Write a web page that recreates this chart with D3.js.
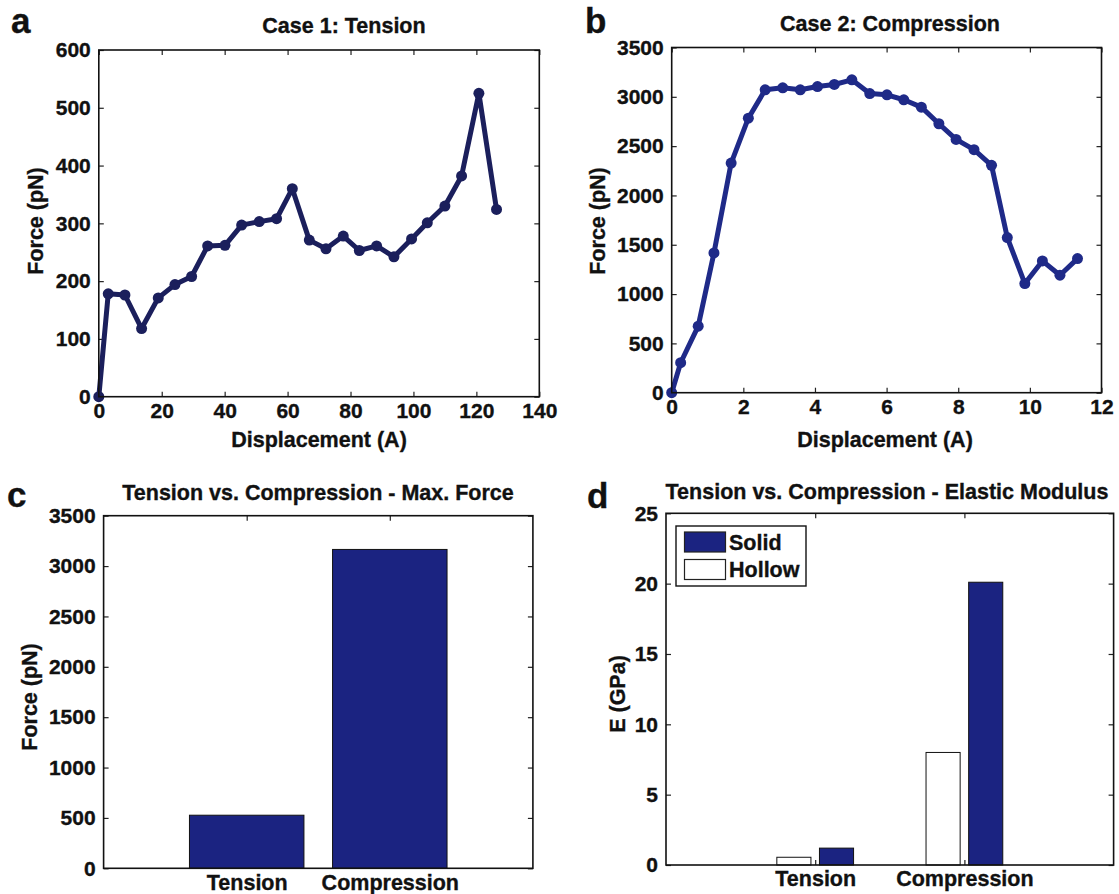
<!DOCTYPE html>
<html>
<head>
<meta charset="utf-8">
<script src="https://cdn.jsdelivr.net/npm/d3@7"></script>
<style>
  html, body { margin: 0; padding: 0; background: #fff; }
  svg { display: block; }
  text { font-family: "Liberation Sans", Arial, Helvetica, sans-serif; font-weight: bold; fill: #111; stroke: #111; stroke-width: 0.35px; }
</style>
</head>
<body>
<svg id="chart" width="1119" height="894"></svg>
<script>
// ---------------- DATA ----------------
const tensionDisp  = [0, 3, 8.3, 13.6, 18.9, 24.2, 29.5, 34.6, 40.1, 45.4, 51.0, 56.5, 61.5, 66.9, 72.2, 77.7, 82.8, 88.3, 93.8, 99.4, 104.4, 110.0, 115.3, 120.8, 126.4];
const tensionForce = [0, 178, 176, 118, 171, 194, 208, 261, 262, 297, 303, 308, 360, 271, 256, 278, 253, 261, 242, 273, 301, 330, 382, 525, 324];

const compDisp  = [0, 0.25, 0.74, 1.18, 1.66, 2.14, 2.61, 3.10, 3.59, 4.07, 4.54, 5.03, 5.53, 6.01, 6.48, 6.97, 7.46, 7.94, 8.44, 8.93, 9.37, 9.86, 10.35, 10.84, 11.33];
const compForce = [0, 304, 675, 1417, 2328, 2783, 3071, 3091, 3071, 3104, 3125, 3172, 3033, 3020, 2970, 2895, 2727, 2568, 2464, 2305, 1573, 1107, 1336, 1191, 1360];

const maxCategories = ["Tension", "Compression"];
const maxForce = [527, 3165];

const modCategories = ["Tension", "Compression"];
const modSeries = ["Hollow", "Solid"];
const hollowE = [0.55, 8.0];
const solidE  = [1.2, 20.1];
const legendLabels = ["Solid", "Hollow"];

const ticksAx = [0, 20, 40, 60, 80, 100, 120, 140];
const ticksAy = [0, 100, 200, 300, 400, 500, 600];
const ticksBx = [0, 2, 4, 6, 8, 10, 12];
const ticksBy = [0, 500, 1000, 1500, 2000, 2500, 3000, 3500];
const ticksCy = [0, 500, 1000, 1500, 2000, 2500, 3000, 3500];
const ticksDy = [0, 5, 10, 15, 20, 25];

const titles = ["Case 1: Tension", "Case 2: Compression", "Tension vs. Compression - Max. Force", "Tension vs. Compression - Elastic Modulus"];

// ---------------- STYLE ----------------
const lineColorA = "#1b1f5c";
const lineColorB = "#1f2a88";
const barColor = "#1b2381";
const TICK = 5;
const TICKFONT = 21;
const LABELFONT = 21.5;
const TITLEFONT = 21.5;

const svg = d3.select("#chart");

function frame(g, x, y, xTicks, yTicks, xFormat, yFormat) {
  const [x0, x1] = x.range();
  const [y0, y1] = y.range();
  g.append("g").attr("class", "xaxis").attr("transform", `translate(0,${y0})`)
    .call(d3.axisBottom(x).tickValues(xTicks).tickSizeInner(-TICK).tickSizeOuter(0).tickPadding(6).tickFormat(xFormat))
    .call(s => s.select(".domain").remove());
  g.append("g").attr("transform", `translate(0,${y1})`)
    .call(d3.axisTop(x).tickValues(xTicks).tickSizeInner(-TICK).tickSizeOuter(0).tickFormat(""))
    .call(s => s.select(".domain").remove());
  g.append("g").attr("transform", `translate(${x0},0)`)
    .call(d3.axisLeft(y).tickValues(yTicks).tickSizeInner(-TICK).tickSizeOuter(0).tickPadding(8).tickFormat(yFormat))
    .call(s => s.select(".domain").remove());
  g.append("g").attr("transform", `translate(${x1},0)`)
    .call(d3.axisRight(y).tickValues(yTicks).tickSizeInner(-TICK).tickSizeOuter(0).tickFormat(""))
    .call(s => s.select(".domain").remove());
  g.selectAll(".tick line").attr("stroke", "#222").attr("stroke-width", 1.2);
  g.selectAll(".tick text").attr("font-size", TICKFONT).attr("font-family", null).attr("fill", "#111");
}

function box(g, x, y) {
  const [x0, x1] = x.range();
  const [y0, y1] = y.range();
  g.append("rect").attr("x", x0).attr("y", y1).attr("width", x1 - x0).attr("height", y0 - y1)
    .attr("fill", "none").attr("stroke", "#111").attr("stroke-width", 1.6);
}

function ylabel(text, cx, cy) {
  svg.append("text").attr("transform", `translate(${cx},${cy}) rotate(-90)`)
    .attr("text-anchor", "middle").attr("dy", "0.35em").attr("font-size", LABELFONT).text(text);
}
function label(text, x, y, size, anchor) {
  svg.append("text").attr("x", x).attr("y", y).attr("text-anchor", anchor || "middle")
    .attr("font-size", size).text(text);
}

// ---------------- PANEL A ----------------
{
  const x = d3.scaleLinear().domain([0, 140]).range([98.8, 539.3]);
  const y = d3.scaleLinear().domain([0, 600]).range([396.7, 50]);
  const g = svg.append("g");
  frame(g, x, y, ticksAx, ticksAy, d3.format("d"), d3.format("d"));
  const pts = tensionDisp.map((d, i) => [d, tensionForce[i]]);
  g.append("path").datum(pts).attr("fill", "none").attr("stroke", lineColorA)
    .attr("stroke-width", 5).attr("stroke-linejoin", "round")
    .attr("d", d3.line().x(d => x(d[0])).y(d => y(d[1])));
  g.selectAll("circle").data(pts).join("circle")
    .attr("cx", d => x(d[0])).attr("cy", d => y(d[1])).attr("r", 5.5).attr("fill", lineColorA);
  box(g, x, y);
  label(titles[0], 344, 33, TITLEFONT);
  label("Displacement (A)", 319, 447, LABELFONT);
  ylabel("Force (pN)", 35, 221);
  label("a", 11, 33, 35, "start");
}

// ---------------- PANEL B ----------------
{
  const x = d3.scaleLinear().domain([0, 12]).range([671.7, 1101.5]);
  const y = d3.scaleLinear().domain([0, 3500]).range([392.7, 47.5]);
  const g = svg.append("g");
  frame(g, x, y, ticksBx, ticksBy, d3.format("d"), d3.format("d"));
  const pts = compDisp.map((d, i) => [d, compForce[i]]);
  g.append("path").datum(pts).attr("fill", "none").attr("stroke", lineColorB)
    .attr("stroke-width", 5).attr("stroke-linejoin", "round")
    .attr("d", d3.line().x(d => x(d[0])).y(d => y(d[1])));
  g.selectAll("circle").data(pts).join("circle")
    .attr("cx", d => x(d[0])).attr("cy", d => y(d[1])).attr("r", 5.5).attr("fill", lineColorB);
  box(g, x, y);
  label(titles[1], 890, 31, TITLEFONT);
  label("Displacement (A)", 885, 447, LABELFONT);
  ylabel("Force (pN)", 597, 221);
  label("b", 585, 33, 35, "start");
}

// ---------------- PANEL C ----------------
{
  const x = d3.scaleLinear().domain([0, 3]).range([103.6, 532.9]);
  const y = d3.scaleLinear().domain([0, 3500]).range([868.3, 515.7]);
  const g = svg.append("g");
  frame(g, x, y, [1, 2], ticksCy, d => maxCategories[d - 1], d3.format("d"));
  g.selectAll("rect.bar").data(maxForce).join("rect").attr("class", "bar")
    .attr("x", (d, i) => x(i + 1 - 0.4)).attr("width", (d, i) => x(i + 1 + 0.4) - x(i + 1 - 0.4))
    .attr("y", d => y(d)).attr("height", d => y(0) - y(d))
    .attr("fill", barColor).attr("stroke", "#111").attr("stroke-width", 1);
  g.selectAll(".xaxis .tick text").attr("font-size", LABELFONT);
  box(g, x, y);
  label(titles[2], 318, 500, TITLEFONT);
  ylabel("Force (pN)", 29, 697);
  label("c", 7, 507, 35, "start");
}

// ---------------- PANEL D ----------------
{
  const x = d3.scaleLinear().domain([0, 3]).range([666, 1113.6]);
  const y = d3.scaleLinear().domain([0, 25]).range([865, 513.3]);
  const inner = d3.scaleBand().domain(modSeries).range([-2 / 7, 2 / 7]).paddingInner(0.2).paddingOuter(0.1);
  const g = svg.append("g");
  frame(g, x, y, [1, 2], ticksDy, d => modCategories[d - 1], d3.format("d"));
  g.selectAll(".xaxis .tick text").attr("font-size", LABELFONT);
  const seriesVals = { Hollow: hollowE, Solid: solidE };
  const fills = { Hollow: "#ffffff", Solid: barColor };
  modSeries.forEach(s => {
    g.selectAll(null).data(seriesVals[s]).join("rect")
      .attr("x", (d, i) => x(i + 1 + inner(s)))
      .attr("width", (d, i) => x(i + 1 + inner(s) + inner.bandwidth()) - x(i + 1 + inner(s)))
      .attr("y", d => y(d)).attr("height", d => y(0) - y(d))
      .attr("fill", fills[s]).attr("stroke", "#111").attr("stroke-width", 1);
  });
  box(g, x, y);
  const lg = svg.append("g");
  lg.append("rect").attr("x", 676).attr("y", 526).attr("width", 130).attr("height", 60)
    .attr("fill", "#fff").attr("stroke", "#111").attr("stroke-width", 1.4);
  legendLabels.forEach((lab, i) => {
    lg.append("rect").attr("x", 684.5).attr("y", 532 + i * 27.5).attr("width", 41).attr("height", 20)
      .attr("fill", fills[lab]).attr("stroke", "#222").attr("stroke-width", 1.2);
    lg.append("text").attr("x", 729).attr("y", 542 + i * 27.5).attr("dy", "0.36em")
      .attr("font-size", LABELFONT).text(lab);
  });
  label(titles[3], 887, 499, TITLEFONT);
  ylabel("E (GPa)", 617, 694);
  label("d", 587, 508, 35, "start");
}
</script>
</body>
</html>
